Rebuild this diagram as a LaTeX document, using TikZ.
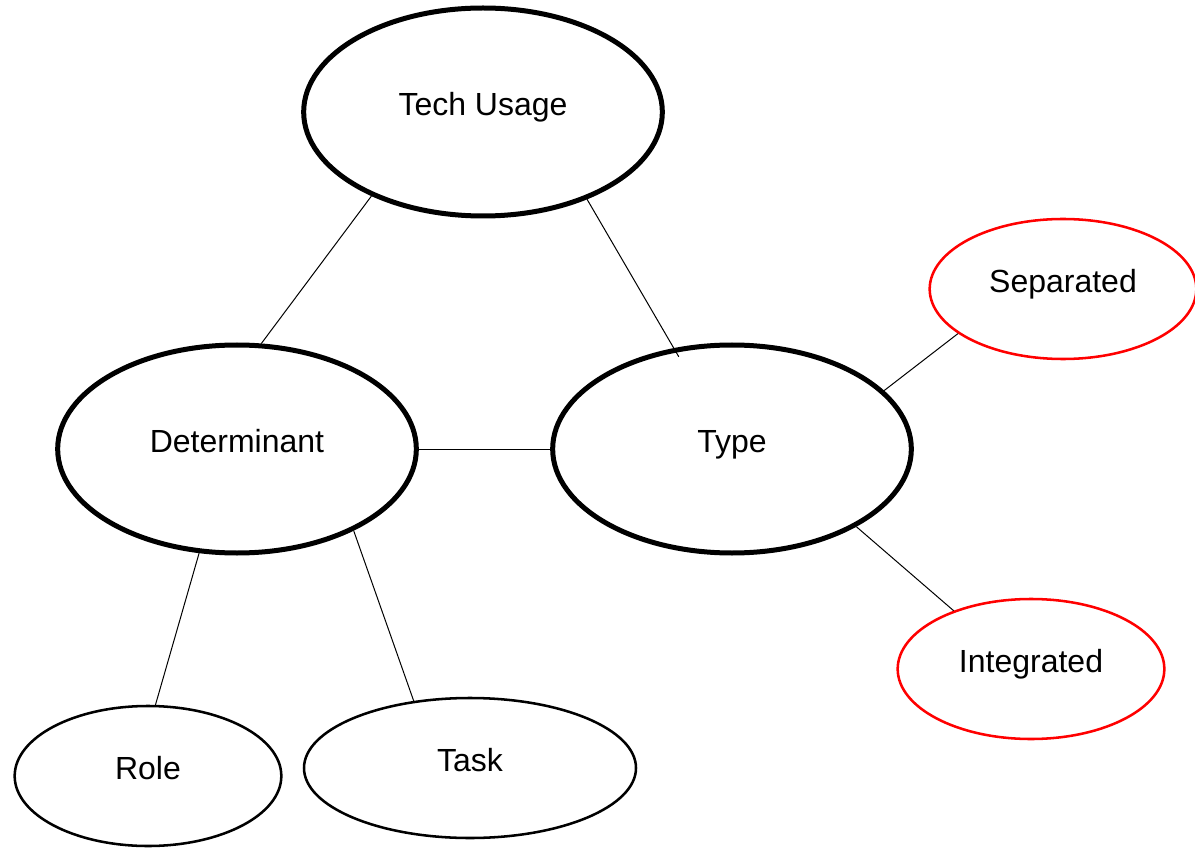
\documentclass[tikz,border=0pt]{standalone}
\usepackage{fontspec}
\setmainfont{Liberation Sans}
\usetikzlibrary{shapes.geometric}

\tikzset{every picture/.style={line width=0.75pt}}
\tikzset{
	bigoval/.style={ellipse, draw, line width=3.75pt, minimum width=269pt, minimum height=156pt, inner sep=0pt, text height=15pt, text depth=9.8pt, font=\fontsize{24}{28}\selectfont},
	smalloval/.style={ellipse, draw, line width=1.9pt, minimum width=200pt, minimum height=105pt, inner sep=0pt, text height=15pt, text depth=9.8pt, font=\fontsize{24}{28}\selectfont},
	redoval/.style={smalloval, draw={rgb, 255:red, 255; green, 0; blue, 0}},
}

\begin{document}
\begin{tikzpicture}[x=0.75pt,y=0.75pt,yscale=-1,xscale=1]
				\useasboundingbox (0,0) rectangle (1195,848);
				
				%Shape: Ellipse
				\node [bigoval] (tech) at (483,112) {Tech Usage};
				%Shape: Ellipse
				\node [bigoval] (det) at (237,449) {Determinant};
				%Shape: Ellipse
				\node [bigoval] (type) at (732,449) {Type};
				%Shape: Ellipse
				\node [redoval] (sep) at (1063,289) {Separated};
				%Shape: Ellipse
				\node [redoval] (integ) at (1031,669) {Integrated};
				%Shape: Ellipse
				\node [smalloval] (role) at (148,776) {Role};
				%Shape: Ellipse
				\node [smalloval, minimum width=249pt] (task) at (470,768) {Task};
				
				%Straight Lines
				\draw (tech.217) -- (det.77) ;
				%Straight Lines
				\draw [shorten >=-7.5pt] (tech.320) -- (type.120) ;
				%Straight Lines
				\draw (det.east) -- (type.west) ;
				%Straight Lines
				\draw (sep.203) -- (type.21) ;
				%Straight Lines
				\draw (type.328) -- (integ.143) ;
				%Straight Lines
				\draw (det.250) -- (role.84) ;
				%Straight Lines
				\draw (det.325) -- (task.130) ;
				
\end{tikzpicture}
\end{document}
